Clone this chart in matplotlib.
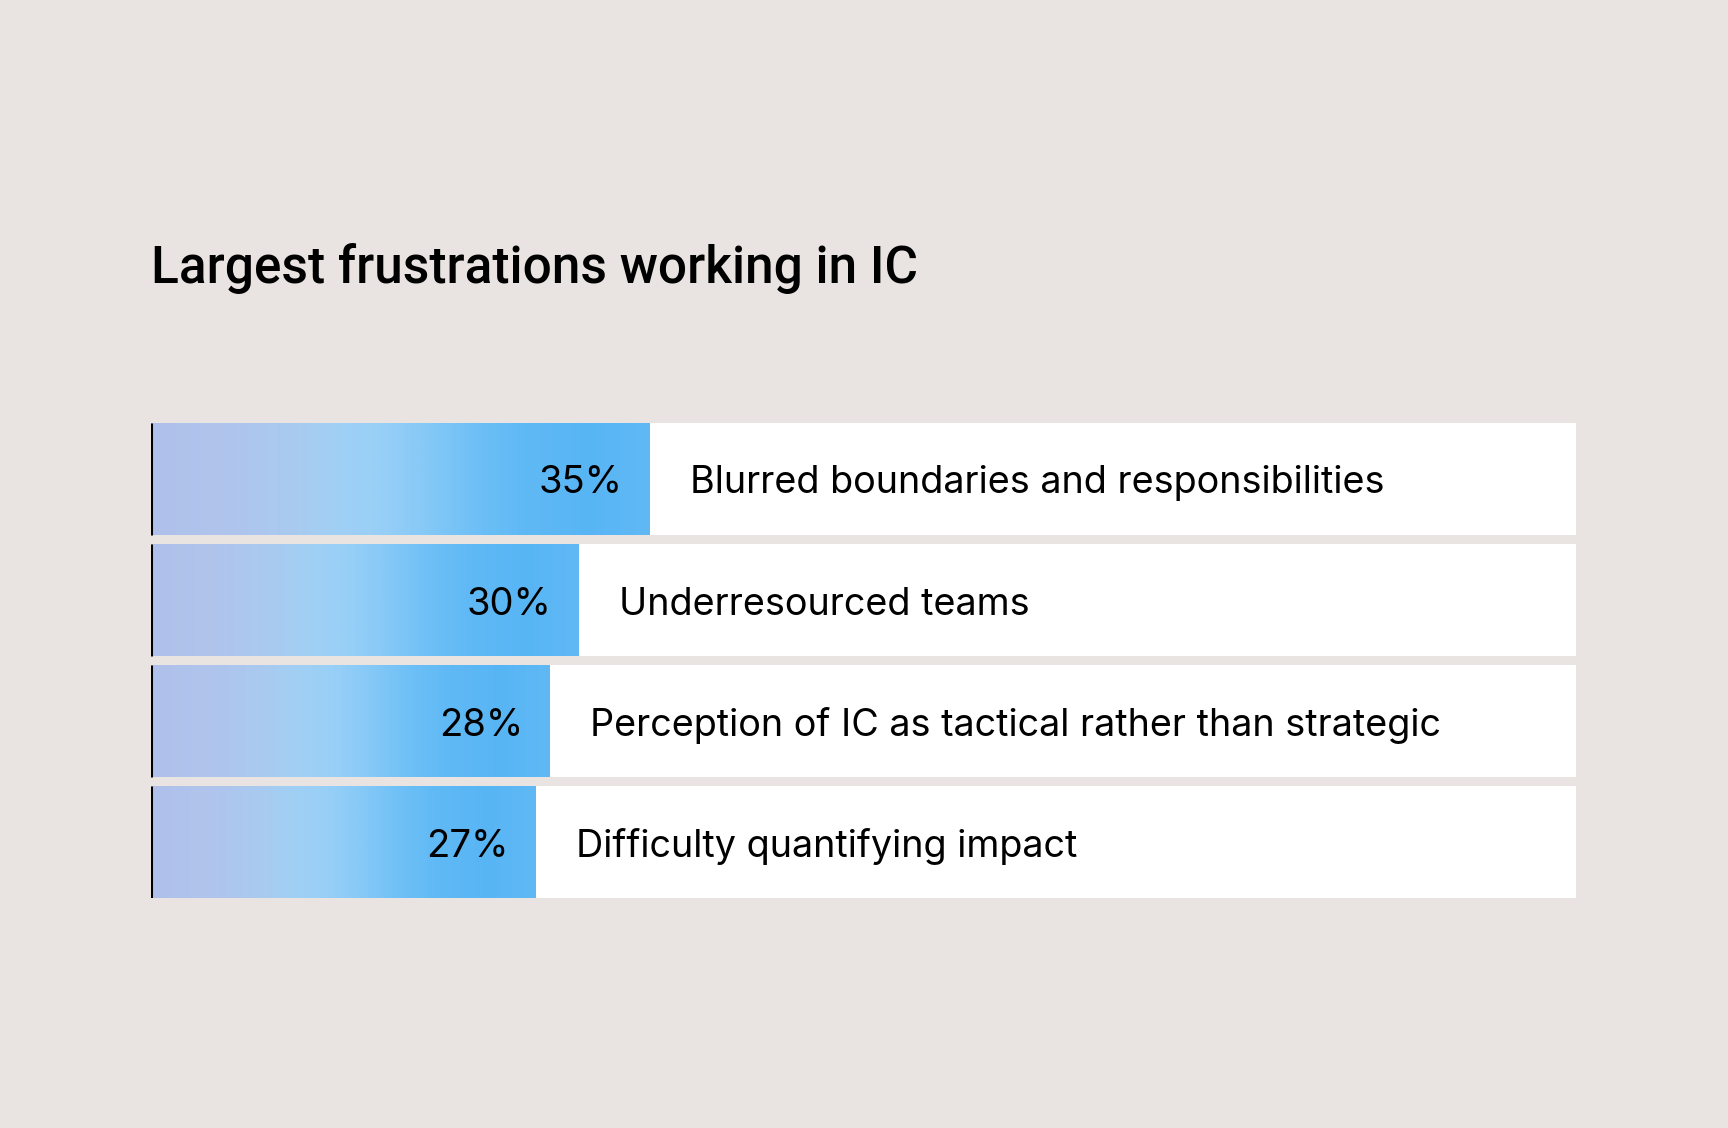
import matplotlib
matplotlib.use("Agg")
import matplotlib.pyplot as plt
import numpy as np
from matplotlib.colors import LinearSegmentedColormap

# data
categories = [
    "Blurred boundaries and responsibilities",
    "Underresourced teams",
    "Perception of IC as tactical rather than strategic",
    "Difficulty quantifying impact",
]
values = [35, 30, 28, 27]
title = "Largest frustrations working in IC"

BG = "#E9E4E1"
W, H, DPI = 1728, 1128, 100
BAR_H = 0.923

plt.rcParams["font.family"] = ["Inter", "DejaVu Sans"]

fig = plt.figure(figsize=(W / DPI, H / DPI), dpi=DPI, facecolor=BG)
ax = fig.add_axes([151 / W, 1 - 898 / H, (1576 - 151) / W, (898 - 423) / H])
ax.set_facecolor(BG)

grad = LinearSegmentedColormap.from_list(
    "ic",
    [(0.0, "#B0C1EA"), (0.15, "#AFC4EC"), (0.28, "#AACAEF"),
     (0.38, "#A0D0F5"), (0.46, "#98CFF7"), (0.55, "#86C9F7"),
     (0.65, "#6EC0F6"), (0.75, "#5FB9F5"), (0.88, "#58B5F4"),
     (1.0, "#60B9F5")],
    N=512,
)
ramp = np.linspace(0, 1, 512).reshape(1, -1)

ypos = np.arange(len(values))
ax.barh(ypos, 100, height=BAR_H, color="white", zorder=1)
blue = ax.barh(ypos, values, height=BAR_H, color="none", zorder=2)

for patch, y, v, label in zip(blue, ypos, values, categories):
    im = ax.imshow(ramp, cmap=grad, aspect="auto", interpolation="bilinear",
                   extent=(0, v, y + BAR_H / 2, y - BAR_H / 2), zorder=2)
    im.set_clip_path(patch)
    ax.vlines(0, y - BAR_H / 2, y + BAR_H / 2, color="black", lw=2.2, zorder=3)
    ax.annotate(f"{v}%", (v, y), xytext=(-19.5, -10.5), textcoords="offset points",
                ha="right", va="baseline", fontsize=27.5, color="black", zorder=4)
    ax.annotate(label, (v, y), xytext=(29, -10.5), textcoords="offset points",
                ha="left", va="baseline", fontsize=27.2, color="black", zorder=4)

ax.set_xlim(0, 100)
ax.set_ylim(len(values) - 1 + BAR_H / 2, -BAR_H / 2)
ax.axis("off")

fig.text(151 / W, 1 - 283 / H, title, ha="left", va="baseline",
         fontsize=37, fontweight="medium", color="black",
         family=["Roboto", "DejaVu Sans"])

fig.savefig("out.png", dpi=DPI, facecolor=BG)
